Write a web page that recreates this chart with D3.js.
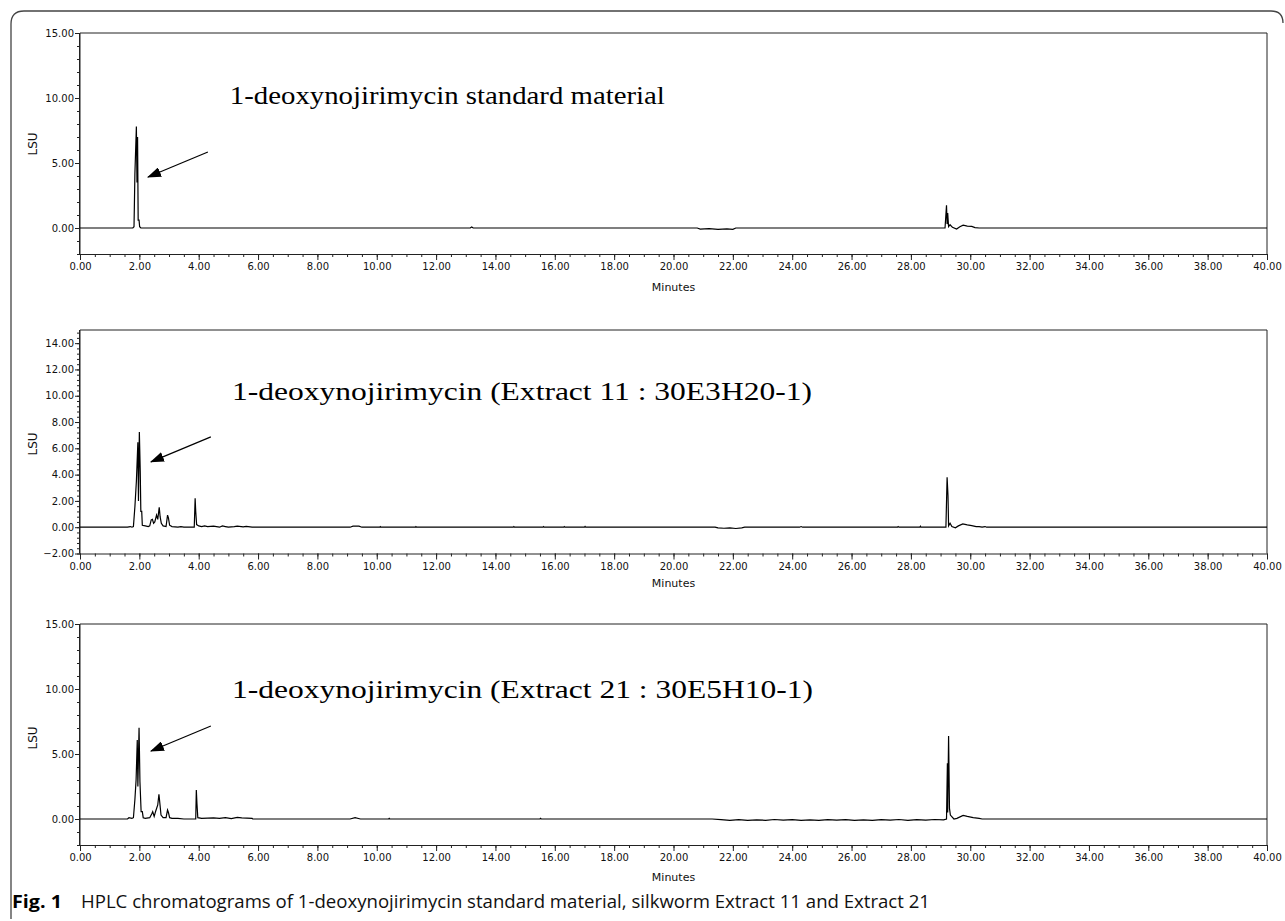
<!DOCTYPE html>
<html><head><meta charset="utf-8">
<script src="https://cdn.jsdelivr.net/npm/d3@7"></script>
<style>
html,body{margin:0;padding:0;background:#fff;}
svg{display:block;}
</style></head>
<body>
<svg id="chart" width="1285" height="921"></svg>
<script>
// ---- data ----
const xMajorTicks = d3.range(0, 40.001, 2);
const xMinorTicks = d3.range(0, 40.001, 0.5);
const yTicksStd = [0, 5, 10, 15];
const yTicksExt11 = [-2, 0, 2, 4, 6, 8, 10, 12, 14];
const yTicksExt21 = [0, 5, 10, 15];
const titles = ["1-deoxynojirimycin standard material",
  "1-deoxynojirimycin (Extract 11 : 30E3H20-1)",
  "1-deoxynojirimycin (Extract 21 : 30E5H10-1)"];
const captionBold = "Fig. 1";
const captionText = "HPLC chromatograms of 1-deoxynojirimycin standard material, silkworm Extract 11 and Extract 21";

// [time (min), LSU]
const stdTrace = [
[0,0],[1.78,0],[1.82,0.1],[1.83,1.4],[1.85,4.2],[1.90,7.8],[1.92,3.5],[1.94,7.0],[1.96,0.6],[1.99,0.6],[2.01,0.1],[2.05,0],
[13.15,0],[13.2,0.08],[13.25,0],
[20.8,0],[20.9,-0.08],[21.2,-0.05],[21.5,-0.1],[21.8,-0.06],[22.0,-0.1],[22.1,0],
[29.15,0],[29.2,1.75],[29.22,0.3],[29.24,1.15],[29.27,0.1],[29.32,0.25],[29.4,0.05],[29.54,-0.08],[29.65,0.1],[29.76,0.22],[29.9,0.15],[30.05,0.12],[30.16,0.03],[30.3,0],[40,0]
];
const ext11Trace = [
[0,0],[1.6,0],[1.7,0.05],[1.75,0],[1.80,0.05],[1.85,1.56],[1.9,3.5],[1.95,6.46],[1.97,2],[2.0,7.25],[2.03,4.25],[2.05,1.2],[2.08,1.2],[2.1,0.15],[2.2,0.1],[2.3,0.05],[2.35,0.1],[2.4,0.55],[2.44,0.6],[2.48,0.3],[2.52,0.4],[2.58,0.92],[2.62,0.6],[2.67,1.52],[2.7,0.8],[2.74,0.3],[2.8,0.1],[2.9,0.05],[2.95,0.92],[2.98,0.7],[3.02,0.15],[3.1,0.05],[3.3,0],[3.4,0.05],[3.5,0],
[3.85,0],[3.88,2.2],[3.9,1.2],[3.93,0.2],[4.0,0.1],[4.1,0.05],[4.2,0.1],[4.3,0.05],[4.5,0.08],[4.7,0],[4.8,0.1],[4.9,0.05],[5.0,0],[5.2,0.05],[5.3,0.08],[5.5,0.03],[5.6,0.06],[5.8,0],
[9.1,0],[9.2,0.08],[9.4,0.08],[9.5,0],[10.1,0],[10.12,0.05],[10.14,0],[11.3,0],[11.32,0.05],[11.34,0],
[14.6,0],[14.62,0.05],[14.64,0],[15.6,0],[15.62,0.05],[15.64,0],[16.3,0],[16.32,0.05],[16.34,0],[17.0,0],[17.02,0.06],[17.04,0],
[21.4,0],[21.5,-0.05],[21.7,-0.08],[21.9,-0.05],[22.1,-0.1],[22.3,-0.05],[22.4,0],[24.25,0],[24.3,0.05],[24.35,0],[27.55,0],[27.57,0.05],[27.6,0],[28.3,0],[28.32,0.08],[28.34,0],
[29.18,0],[29.22,3.8],[29.25,2.4],[29.27,0.1],[29.32,0.3],[29.38,0.05],[29.5,-0.05],[29.6,0.1],[29.75,0.25],[29.9,0.18],[30.05,0.12],[30.2,0.05],[30.3,0.05],[30.4,0],[30.5,0.05],[30.55,0],[40,0]
];
const ext21Trace = [
[0,0],[1.6,0],[1.65,0.1],[1.75,0.05],[1.80,0.1],[1.85,1.5],[1.89,3.0],[1.93,6.08],[1.95,2.5],[1.99,7.02],[2.02,2.87],[2.06,0.56],[2.1,0.56],[2.13,0.1],[2.2,0.05],[2.35,0.1],[2.42,0.4],[2.45,0.56],[2.5,0.2],[2.55,0.6],[2.62,1.08],[2.66,1.9],[2.69,1.23],[2.73,0.3],[2.8,0.1],[2.9,0.1],[2.95,0.69],[2.98,0.5],[3.02,0.1],[3.1,0.05],[3.3,0.05],[3.5,0],
[3.9,0],[3.92,2.23],[3.94,1.23],[3.97,0.1],[4.1,0.05],[4.5,0.08],[4.7,0.05],[4.9,0.1],[5.1,0.03],[5.3,0.12],[5.45,0.08],[5.8,0.05],[5.82,0],
[9.1,0],[9.27,0.1],[9.45,0],[10.4,0],[10.42,0.05],[10.44,0],[15.5,0],[15.52,0.05],[15.54,0],
[21.3,0],[21.6,-0.05],[21.9,-0.1],[22.2,-0.05],[22.5,-0.1],[22.8,-0.06],[23.1,-0.1],[23.4,-0.04],[23.7,-0.09],[24.0,-0.05],[24.3,-0.1],[24.6,-0.06],[24.9,-0.1],[25.2,-0.05],[25.5,-0.09],[25.8,-0.05],[26.1,-0.1],[26.4,-0.06],[26.7,-0.1],[27.0,-0.05],[27.3,-0.09],[27.6,-0.04],[27.9,-0.1],[28.2,-0.05],[28.5,-0.08],[28.8,-0.04],[29.1,-0.06],
[29.2,0],[29.23,4.28],[29.24,0.5],[29.27,6.38],[29.3,0.82],[29.33,0.3],[29.45,0],[29.55,0.05],[29.76,0.28],[29.9,0.2],[30.1,0.1],[30.3,0.05],[30.4,0],[40,0]
];
// annotation arrows in data units: [tailTime, tailLSU, tipTime, tipLSU]
const arrowStd = [4.31, 5.85, 2.29, 3.92];
const arrowExt11 = [4.41, 6.87, 2.39, 4.97];
const arrowExt21 = [4.41, 7.15, 2.39, 5.23];
// title anchor in data units: [time, LSU]
const titleAnchors = [[5.05, 9.54], [5.12, 9.7], [5.12, 9.3]];

// ---- layout ----
const svg = d3.select("#chart");
const left = 80, right = 1267;
const panels = [
  {top: 33, bottom: 254, data: stdTrace, yTicks: yTicksStd, arrow: arrowStd, title: titles[0], anchor: titleAnchors[0], titleW: 435, lsuY: 144, minutesY: 291},
  {top: 330, bottom: 553.5, data: ext11Trace, yTicks: yTicksExt11, arrow: arrowExt11, title: titles[1], anchor: titleAnchors[1], titleW: 580, lsuY: 444, minutesY: 587},
  {top: 624, bottom: 845, data: ext21Trace, yTicks: yTicksExt21, arrow: arrowExt21, title: titles[2], anchor: titleAnchors[2], titleW: 581, lsuY: 738, minutesY: 881}
];
const axisFont = "DejaVu Sans, Liberation Sans, sans-serif";

// outer frame
svg.append("path")
  .attr("d", "M11,919 Q11,914 11,912 L11,24 Q11,11 24,11 L1271,11 Q1283,11 1283,23")
  .attr("fill", "none").attr("stroke", "#444").attr("stroke-width", 1.3);

svg.append("defs").append("marker")
  .attr("id", "ah").attr("viewBox", "0 0 14 10").attr("refX", 13).attr("refY", 5)
  .attr("markerWidth", 14).attr("markerHeight", 10).attr("markerUnits", "userSpaceOnUse")
  .attr("orient", "auto")
  .append("path").attr("d", "M0,0 L14,5 L0,10 Z").attr("fill", "#000");

panels.forEach(p => {
  const x = d3.scaleLinear().domain([0, 40]).range([left, right]);
  const y = d3.scaleLinear().domain([-2, 15]).range([p.bottom, p.top]);
  const g = svg.append("g");

  // frame (top, right)
  g.append("path")
    .attr("d", `M${left},${p.bottom} L${left},${p.top} L${right},${p.top} L${right},${p.bottom}`)
    .attr("fill", "none").attr("stroke", "#222").attr("stroke-width", 1);

  // x minor
  const xMinor = d3.axisBottom(x).tickValues(xMinorTicks).tickSize(3).tickFormat("");
  g.append("g").attr("transform", `translate(0,${p.bottom})`).call(xMinor)
    .call(s => s.select(".domain").remove())
    .selectAll("line").attr("stroke", "#222");
  const xMajor = d3.axisBottom(x).tickValues(xMajorTicks).tickSize(6).tickPadding(3).tickFormat(d3.format(".2f"));
  const xa = g.append("g").attr("transform", `translate(0,${p.bottom})`).call(xMajor);
  xa.select(".domain").attr("stroke", "#222").attr("d", `M${left},0.5H${right}`);
  xa.selectAll("line").attr("stroke", "#222");
  xa.selectAll("text").attr("font-family", axisFont).attr("font-size", 10).attr("fill", "#111");

  // y minor ticks
  const ys = d3.range(-2, 15.001, p.yTicks.length > 5 ? 0.4 : 1);
  const yMinor = d3.axisLeft(y).tickValues(ys).tickSize(3).tickFormat("");
  g.append("g").attr("transform", `translate(${left},0)`).call(yMinor)
    .call(s => s.select(".domain").remove())
    .selectAll("line").attr("stroke", "#222");
  const yMajor = d3.axisLeft(y).tickValues(p.yTicks).tickSize(5).tickPadding(1).tickFormat(d3.format(".2f"));
  const ya = g.append("g").attr("transform", `translate(${left},0)`).call(yMajor);
  ya.select(".domain").attr("stroke", "#222").attr("d", `M-0.5,${p.bottom}V${p.top}`);
  ya.selectAll("line").attr("stroke", "#222");
  ya.selectAll("text").attr("font-family", axisFont).attr("font-size", 10).attr("fill", "#111");

  // labels
  g.append("text").attr("x", (left + right) / 2 + 0).attr("y", p.minutesY)
    .attr("text-anchor", "middle").attr("font-family", axisFont).attr("font-size", 11).attr("fill", "#111")
    .text("Minutes");
  g.append("text").attr("transform", `translate(37,${p.lsuY}) rotate(-90)`)
    .attr("text-anchor", "middle").attr("font-family", axisFont).attr("font-size", 12).attr("fill", "#111")
    .text("LSU");

  // trace
  const line = d3.line().x(d => x(d[0])).y(d => y(d[1]));
  g.append("path").datum(p.data).attr("d", line)
    .attr("fill", "none").attr("stroke", "#000").attr("stroke-width", 1.2).attr("stroke-linejoin", "miter");

  // arrow
  g.append("line")
    .attr("x1", x(p.arrow[0])).attr("y1", y(p.arrow[1]))
    .attr("x2", x(p.arrow[2])).attr("y2", y(p.arrow[3]))
    .attr("stroke", "#000").attr("stroke-width", 1.2).attr("marker-end", "url(#ah)");

  // title
  g.append("text").attr("x", x(p.anchor[0])).attr("y", y(p.anchor[1]))
    .attr("font-family", "Liberation Serif, DejaVu Serif, serif").attr("font-size", 26).attr("fill", "#000")
    .attr("textLength", p.titleW).attr("lengthAdjust", "spacingAndGlyphs")
    .text(p.title);
});

// caption
svg.append("text").attr("x", 12).attr("y", 908)
  .attr("font-family", "Open Sans, Noto Sans, sans-serif").attr("font-weight", "bold").attr("font-size", 18)
  .attr("textLength", 50).attr("lengthAdjust", "spacingAndGlyphs").attr("fill", "#000")
  .text(captionBold);
svg.append("text").attr("x", 81).attr("y", 908)
  .attr("font-family", "Open Sans, Noto Sans, sans-serif").attr("font-size", 18)
  .attr("textLength", 849).attr("lengthAdjust", "spacingAndGlyphs").attr("fill", "#111")
  .text(captionText);
</script>
</body></html>
